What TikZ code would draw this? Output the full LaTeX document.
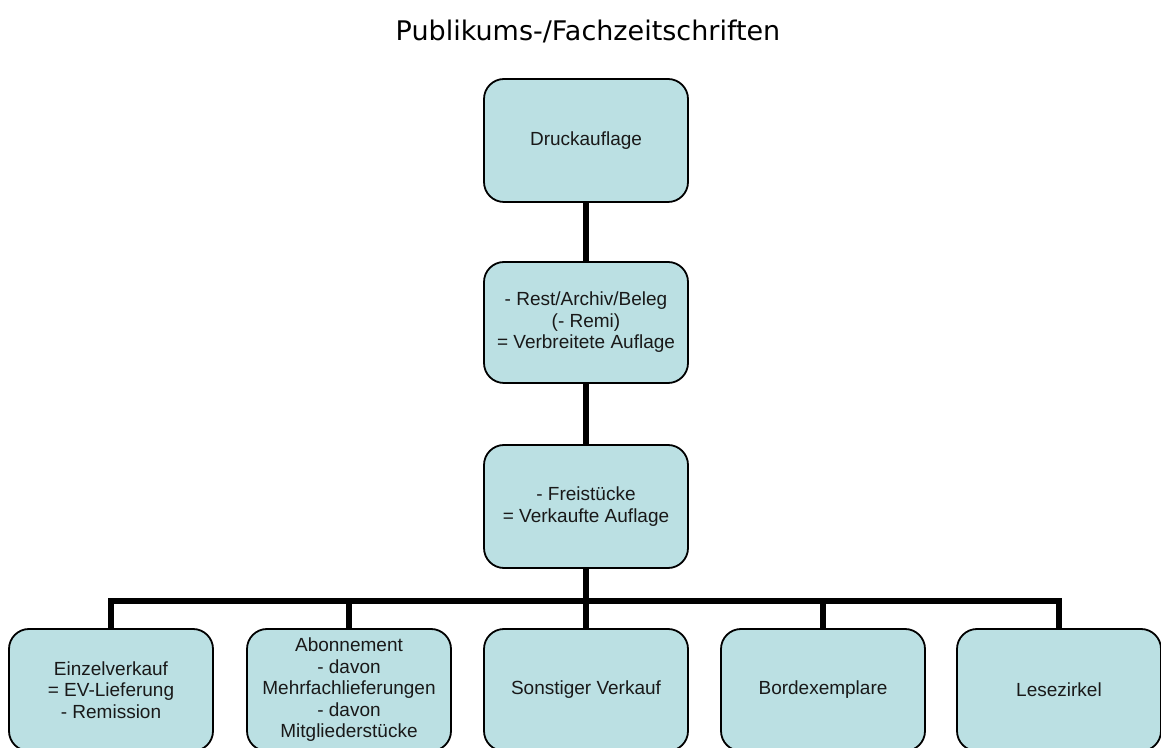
\documentclass[tikz,border=0pt]{standalone}
\usepackage{fontspec}
\setmainfont{Liberation Sans}
\newfontfamily\titlefont{DejaVu Sans}
\usepackage{xcolor}
\usetikzlibrary{positioning}
\definecolor{boxfill}{RGB}{187,224,227}
\tikzset{
  level/.style={draw=black, line width=1.8pt, fill=boxfill, rounded corners=20pt,
                minimum width=204pt, minimum height=122pt, align=center, inner sep=2pt,
                font=\fontsize{19}{21.5}\selectfont, text=black!90},
  conn/.style={line width=6.5pt, line join=miter}
}
\begin{document}
\begin{tikzpicture}[x=1pt, y=1pt]
\useasboundingbox (0,0) rectangle (1161,747);
\clip (0,0) rectangle (1161,747);
%
\node (title) at (588,715) {\titlefont\fontsize{27}{30}\selectfont Publikums-/Fachzeitschriften};
%
\node[level, minimum height=123pt] (druck) at (586,606.5) {Druckauflage};
\node[level, minimum height=121pt] (verb) at (586,424.5) {- Rest/Archiv/Beleg\\(- Remi)\\= Verbreitete Auflage};
\node[level, minimum height=123pt] (verk) at (586,240.5) {- Freistücke\\= Verkaufte Auflage};
%
\node[level] (ev)    at (111,57)  {Einzelverkauf\\= EV-Lieferung\\- Remission};
\node[level] (abo)   at (349,57)  {Abonnement\\- davon\\Mehrfachlieferungen\\- davon\\Mitgliederstücke};
\node[level] (sonst) at (586,57)  {Sonstiger Verkauf};
\node[level] (bord)  at (823,57)  {Bordexemplare};
\node[level] (lese)  at (1059,57) {Lesezirkel};
%
\coordinate (bus) at (586,146);
%
\draw[conn] (druck.south) -- (verb.north);
\draw[conn] (verb.south) -- (verk.north);
\draw[conn] (verk.south) -- (bus);
\draw[conn] (ev.north) |- (bus) -| (lese.north);
\draw[conn] (abo.north) -- (abo.north |- bus);
\draw[conn] (sonst.north) -- (bus);
\draw[conn] (bord.north) -- (bord.north |- bus);
%
\end{tikzpicture}
\end{document}
